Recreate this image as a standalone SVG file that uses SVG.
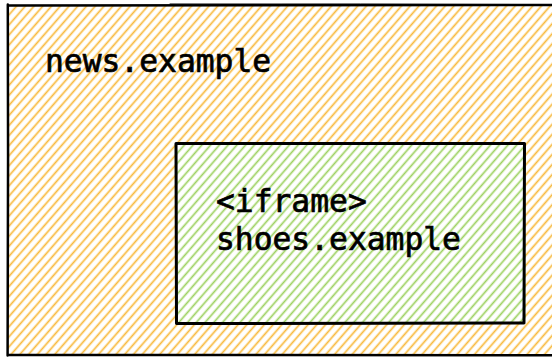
<svg xmlns="http://www.w3.org/2000/svg" width="552" height="358" viewBox="0 0 552 358">
  <defs>
    <!-- hand-drawn style hachure fills -->
    <pattern id="hatch-orange" patternUnits="userSpaceOnUse" width="10" height="6.6" patternTransform="rotate(-49)">
      <line x1="0" y1="3.3" x2="10" y2="3.3" stroke="#f8b93c" stroke-width="1.7"/>
    </pattern>
    <pattern id="hatch-green" patternUnits="userSpaceOnUse" width="10" height="6.6" patternTransform="rotate(-49)">
      <line x1="0" y1="3.3" x2="10" y2="3.3" stroke="#9dd160" stroke-width="1.7"/>
    </pattern>
  </defs>
  <style>
    .label { font-family: "DejaVu Sans Mono", "Liberation Mono", monospace; font-size: 31.3px; fill: #000; stroke: #000; stroke-width: 0.7; }
    .edge { fill: none; stroke: #000; stroke-linecap: round; stroke-linejoin: round; }
  </style>

  <rect width="552" height="358" fill="#ffffff"/>

  <g id="news-example">
    <rect x="8" y="5" width="548" height="350" fill="url(#hatch-orange)"/>
    <path class="edge" stroke-width="2.5" d="M8 5.5 Q200 4.5 552 5 M7.8 4.5 Q8.4 180 7.6 355.5 M7.5 355 Q280 355.8 552 355.2"/>
    <path class="edge" stroke-width="1" stroke="#555" d="M170 4 Q360 3.8 552 4.6"/>
    <text class="label" x="45" y="72">news.example</text>
  </g>

  <g id="shoes-example">
    <rect x="177" y="144" width="347" height="179" fill="#ffffff"/>
    <rect x="177" y="144" width="349" height="180" fill="url(#hatch-green)"/>
    <path class="edge" stroke-width="3" d="M176 143.5 L524.5 143.5 L524 323 L176.5 323.5 Z"/>
    <text class="label" x="216" y="212">&lt;iframe&gt;</text>
    <text class="label" x="216" y="250">shoes.example</text>
  </g>

  <g id="connectors"/>
</svg>
